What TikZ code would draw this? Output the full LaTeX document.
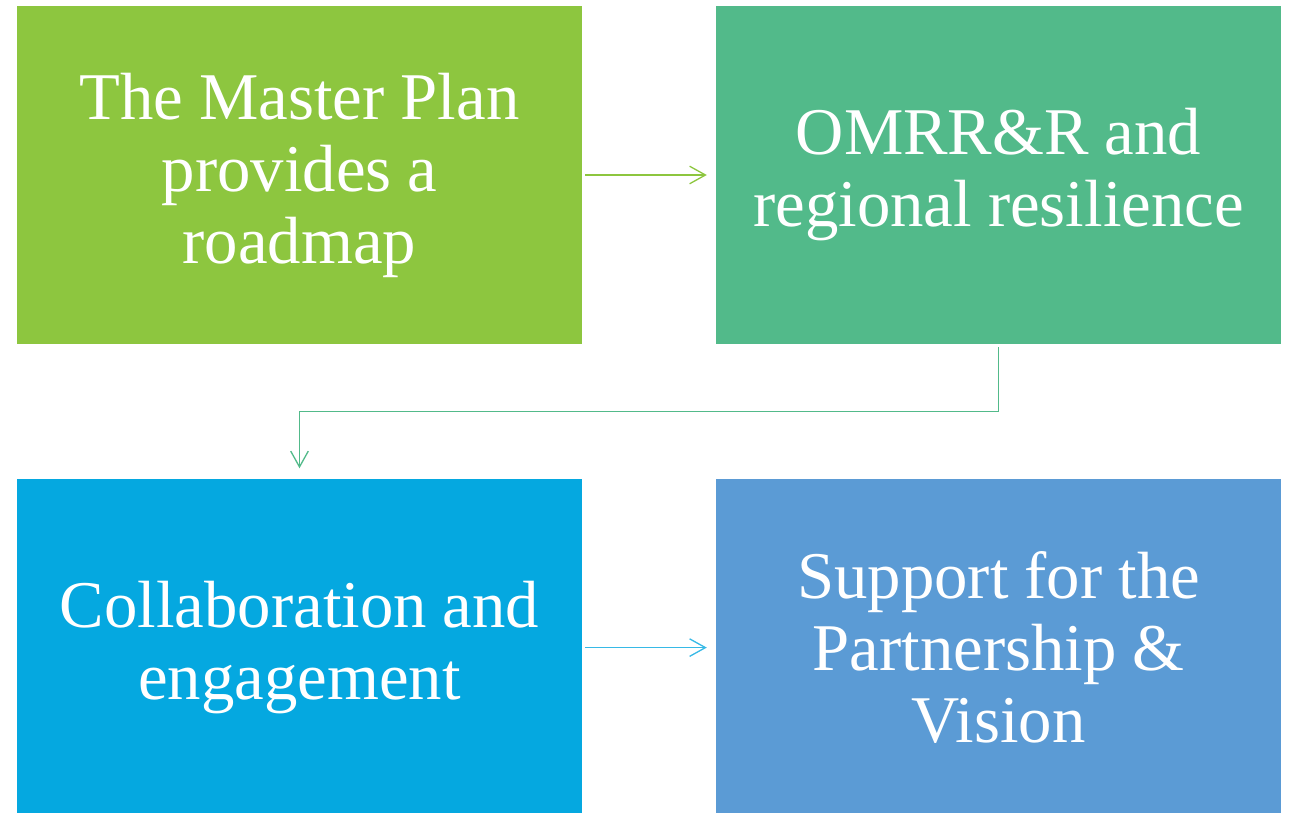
\documentclass[tikz,border=0pt]{standalone}
\usepackage{fontspec}
\setmainfont{Liberation Serif}
\usetikzlibrary{arrows.meta}
\usepackage{xcolor}

\definecolor{planGreen}{RGB}{141,198,63}
\definecolor{omrrGreen}{RGB}{82,186,138}
\definecolor{collabBlue}{RGB}{5,168,224}
\definecolor{visionBlue}{RGB}{91,155,213}

\begin{document}
\begin{tikzpicture}[x=0.02cm,y=-0.02cm,
  box/.style={fill=#1,text=white,inner sep=0.15cm,text width=11cm,align=center,
    minimum width=11.3cm,minimum height=6.76cm,
    font=\fontsize{38}{41}\selectfont,
    execute at begin node={\spaceskip=0.24em\relax}},
  link/.style={draw=#1,line width=0.75pt,-{Straight Barb[length=9pt,width=10pt]}}]
\useasboundingbox (0,0) rectangle (1291,813);
\node [box=planGreen,at={(299.5,175)}] (plan) {The Master Plan\\provides a\\roadmap};
\node [box=omrrGreen,right=2.67cm,at=(plan.east)] (omrr) {OMRR\&R and\\regional resilience};
\node [box=collabBlue,below=2.68cm,at=(plan.south)] (collab) {Collaboration and\\engagement};
\node [box=visionBlue,right=2.67cm,at=(collab.east)] (vision) {Support for the\\Partnership \&\\Vision};

\draw [link=planGreen,shorten <=0.06cm,shorten >=0.18cm] (plan) -- (omrr);
\draw [link=omrrGreen,shorten <=0.06cm,shorten >=0.2cm] (omrr.south) -- ++(0,67) -| (collab.north);
\draw [link=collabBlue!80!white,shorten <=0.06cm,shorten >=0.18cm] (collab) -- (vision);
\end{tikzpicture}
\end{document}
